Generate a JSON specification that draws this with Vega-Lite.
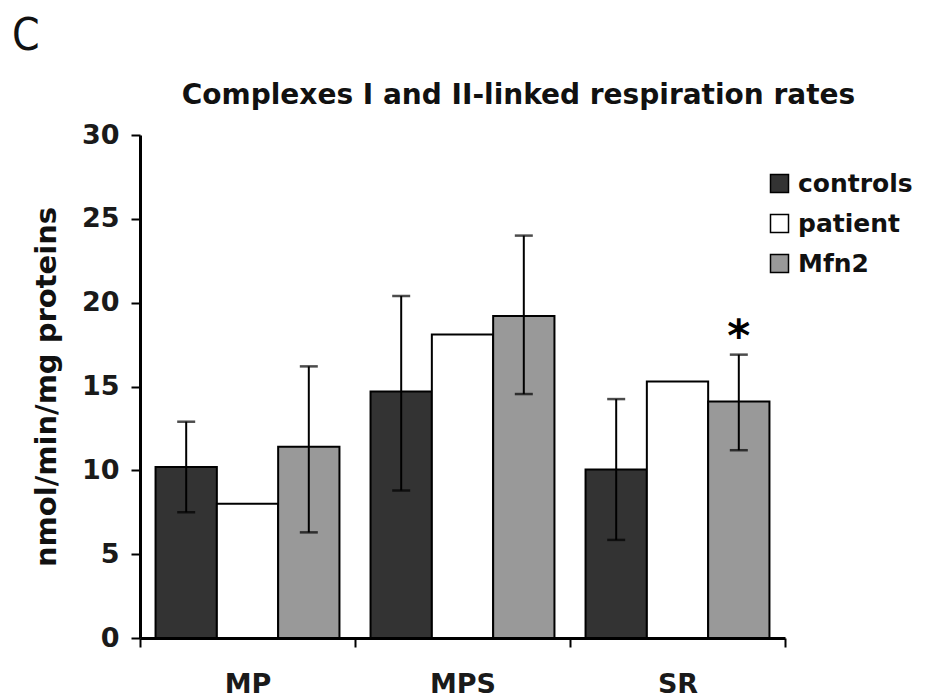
{
  "$schema": "https://vega.github.io/schema/vega-lite/v6.json",
  "width": 645,
  "height": 503,
  "autosize": "none",
  "padding": {"left": 140, "top": 135, "right": 140, "bottom": 62},
  "background": "white",
  "title": {
    "text": "C",
    "anchor": "start",
    "frame": "group",
    "font": "DejaVu Sans Condensed, Liberation Sans",
    "fontSize": 44,
    "fontWeight": "normal",
    "color": "#111111",
    "baseline": "alphabetic",
    "dx": -128,
    "dy": 39,
    "offset": 26
  },
  "data": {
    "values": [
      {"group": "MP", "cond": "controls", "value": 10.2, "lo": 7.5, "hi": 12.9},
      {"group": "MP", "cond": "patient", "value": 8.0, "lo": null, "hi": null},
      {"group": "MP", "cond": "Mfn2", "value": 11.4, "lo": 6.3, "hi": 16.2},
      {"group": "MPS", "cond": "controls", "value": 14.7, "lo": 8.8, "hi": 20.4},
      {"group": "MPS", "cond": "patient", "value": 18.1, "lo": null, "hi": null},
      {"group": "MPS", "cond": "Mfn2", "value": 19.2, "lo": 14.55, "hi": 24.0},
      {"group": "SR", "cond": "controls", "value": 10.05, "lo": 5.85, "hi": 14.25},
      {"group": "SR", "cond": "patient", "value": 15.3, "lo": null, "hi": null},
      {"group": "SR", "cond": "Mfn2", "value": 14.1, "lo": 11.2, "hi": 16.9, "star": "*"}
    ]
  },
  "layer": [
    {
      "mark": {"type": "bar", "stroke": "black", "strokeWidth": 2},
      "encoding": {
        "x": {
          "field": "group", "type": "nominal", "sort": ["MP", "MPS", "SR"],
          "scale": {"paddingInner": 0, "paddingOuter": 0},
          "axis": {"orient": "bottom", "title": null, "labelAngle": 0, "tickBand": "extent", "labelFontSize": 27, "labelPadding": 24}
        },
        "xOffset": {
          "field": "cond", "type": "nominal", "sort": ["controls", "patient", "Mfn2"],
          "scale": {"paddingInner": 0, "paddingOuter": 0.2535}
        },
        "y": {
          "field": "value", "type": "quantitative", "title": "nmol/min/mg proteins",
          "scale": {"domain": [0, 30], "nice": false},
          "axis": {"values": [0, 5, 10, 15, 20, 25, 30], "labelFontSize": 27, "labelPadding": 12, "titleFontSize": 29, "titlePadding": 20}
        },
        "color": {
          "field": "cond", "type": "nominal", "sort": ["controls", "patient", "Mfn2"],
          "scale": {"domain": ["controls", "patient", "Mfn2"], "range": ["#333333", "#ffffff", "#999999"]},
          "legend": {
            "orient": "none", "legendX": 627, "legendY": 36, "title": null,
            "symbolType": "square", "symbolSize": 324, "symbolStrokeColor": "black", "symbolStrokeWidth": 1.5, "symbolOpacity": 1,
            "labelFontSize": 25, "labelFontWeight": "bold", "labelFont": "DejaVu Sans", "labelColor": "#111111",
            "labelOffset": 6, "rowPadding": 14
          }
        }
      }
    },
    {
      "transform": [{"filter": "datum.hi != null"}],
      "mark": {"type": "rule", "color": "black", "strokeWidth": 2},
      "encoding": {
        "x": {
          "field": "group", "type": "nominal", "sort": ["MP", "MPS", "SR"],
          "axis": {"orient": "top", "domain": false, "ticks": false, "labels": false,
            "title": "Complexes I and II-linked respiration rates", "titleFontSize": 28,
            "titleX": 378, "titleY": -32, "titleAlign": "center", "titleBaseline": "alphabetic", "titleAngle": 0}
        },
        "xOffset": {"field": "cond", "type": "nominal", "sort": ["controls", "patient", "Mfn2"]},
        "y": {"field": "lo", "type": "quantitative", "title": "nmol/min/mg proteins"},
        "y2": {"field": "hi"}
      }
    },
    {
      "transform": [{"filter": "datum.hi != null"}],
      "mark": {"type": "tick", "color": "black", "thickness": 2.5, "size": 18, "orient": "horizontal"},
      "encoding": {
        "x": {"field": "group", "type": "nominal", "sort": ["MP", "MPS", "SR"], "axis": null},
        "xOffset": {"field": "cond", "type": "nominal", "sort": ["controls", "patient", "Mfn2"]},
        "y": {"field": "hi", "type": "quantitative", "title": "nmol/min/mg proteins"}
      }
    },
    {
      "transform": [{"filter": "datum.hi != null"}],
      "mark": {"type": "tick", "color": "black", "thickness": 2.5, "size": 18, "orient": "horizontal"},
      "encoding": {
        "x": {"field": "group", "type": "nominal", "sort": ["MP", "MPS", "SR"], "axis": null},
        "xOffset": {"field": "cond", "type": "nominal", "sort": ["controls", "patient", "Mfn2"]},
        "y": {"field": "lo", "type": "quantitative", "title": "nmol/min/mg proteins"}
      }
    },
    {
      "transform": [{"filter": "datum.star != null"}],
      "mark": {"type": "text", "font": "DejaVu Sans", "fontWeight": "bold", "fontSize": 44, "baseline": "alphabetic", "dy": -4, "color": "black"},
      "encoding": {
        "x": {"field": "group", "type": "nominal", "sort": ["MP", "MPS", "SR"], "axis": null},
        "xOffset": {"field": "cond", "type": "nominal", "sort": ["controls", "patient", "Mfn2"]},
        "y": {"field": "hi", "type": "quantitative", "title": "nmol/min/mg proteins"},
        "text": {"field": "star"}
      }
    }
  ],
  "resolve": {"axis": {"x": "independent"}},
  "config": {
    "view": {"stroke": null},
    "font": "DejaVu Sans",
    "axis": {
      "grid": false,
      "domainColor": "black",
      "domainWidth": 3,
      "tickColor": "black",
      "tickWidth": 2,
      "tickSize": 9,
      "labelColor": "#1a1a1a",
      "labelFont": "DejaVu Sans",
      "labelFontWeight": "bold",
      "titleFont": "DejaVu Sans",
      "titleFontWeight": "bold",
      "titleColor": "#111111"
    }
  }
}
